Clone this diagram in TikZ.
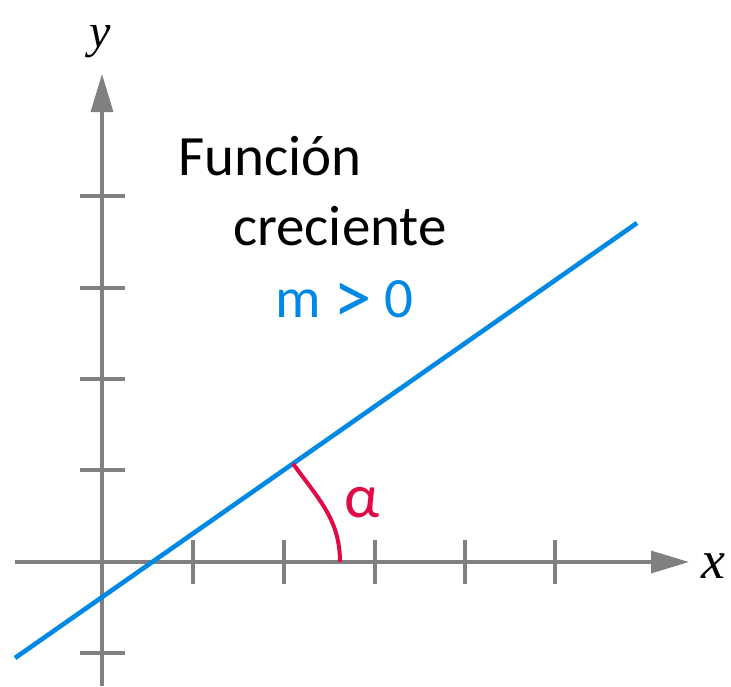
\documentclass[tikz,border=0pt]{standalone}
\usepackage{fontspec}
\setsansfont{Carlito}
\newfontfamily\axisfont{Liberation Serif}
\usetikzlibrary{arrows.meta,positioning}
\definecolor{axisgray}{RGB}{128,128,128}
\definecolor{slopeblue}{RGB}{0,136,229}
\definecolor{anglered}{RGB}{226,10,70}

\begin{document}
\begin{tikzpicture}[x=1pt, y=-1pt, font=\sffamily, axis/.style={draw=axisgray, line width=3.3pt, -{Triangle[length=38pt, width=22pt]}}, tick/.style={draw=axisgray, line width=3.3pt}, graph/.style={draw=slopeblue, line width=4.6pt}, label/.style={inner sep=0pt, anchor=base west}]
\useasboundingbox (0,0) rectangle (731,686);
% axes
\coordinate (xstart) at (15,562);
\coordinate (xend) at (689,562);
\coordinate (ybottom) at (102,686);
\coordinate (ytop) at (102,74);
\foreach \t in {193,284,375,465,555} \draw[tick] (\t,540) -- (\t,584);
\foreach \t in {196,288,379,470,653} \draw[tick] (80,\t) -- (125,\t);
\draw[axis] (xstart) -- (xend);
\draw[axis] (ybottom) -- (ytop);
\node[inner sep=0pt, font=\axisfont\itshape\fontsize{54}{54}\selectfont] (xlabel) at (713,566) {x};
\node[inner sep=0pt, font=\axisfont\itshape\fontsize{48}{48}\selectfont] (ylabel) at (100,42) {y};
% line and angle
\coordinate (linestart) at (15,658);
\coordinate (lineend) at (637,223);
\coordinate (angletop) at (293,463.6);
\coordinate (anglebottom) at (340,562);
\draw[graph] (linestart) -- (lineend);
\draw[draw=anglered, line width=4pt] (angletop) .. controls +(26,36) and +(0,-42) .. (anglebottom);
\node[text=anglered, inner sep=0pt, font=\sffamily\fontsize{62}{62}\selectfont] (alpha) at (362,503) {α};
% texts
\node[label, font=\sffamily\fontsize{57}{57}\selectfont] (title) at (178,175) {Función};
\node[label, font=\sffamily\fontsize{57}{57}\selectfont] (growing) at (233,245) {creciente};
\node[label, text=slopeblue, font=\sffamily\fontsize{57}{57}\selectfont] (slope) at (275,317) {m \raisebox{-0.11em}{\scalebox{1.35}{>}} 0};
\end{tikzpicture}
\end{document}
